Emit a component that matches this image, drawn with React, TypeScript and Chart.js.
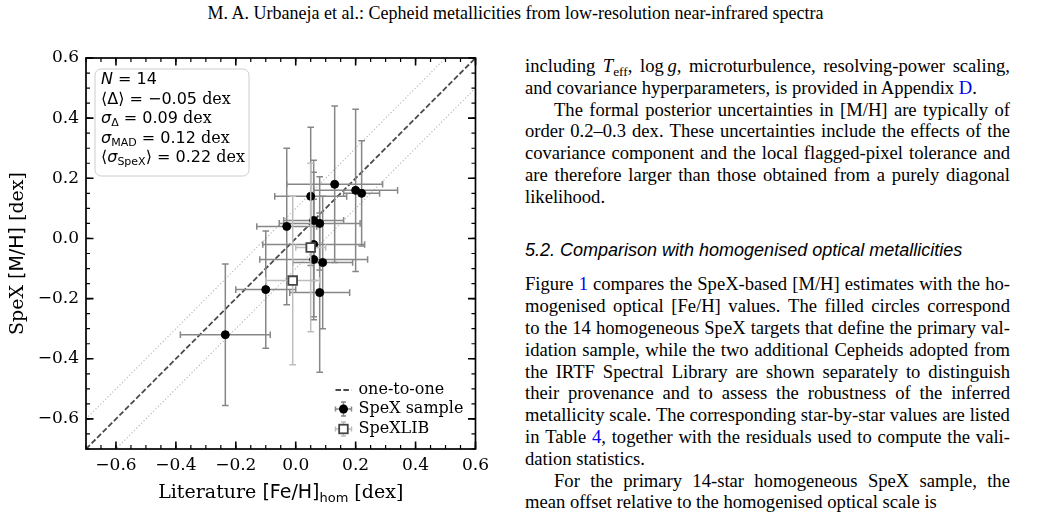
import React, { useEffect, useRef } from "react";
import { Chart, registerables } from "chart.js";

Chart.register(...registerables);

// ---------------- chart data ----------------
const axisMin = -0.7;
const axisMax = 0.6;
const tickValues = [-0.6, -0.4, -0.2, 0.0, 0.2, 0.4, 0.6];
const tickLabels = ["−0.6", "−0.4", "−0.2", "0.0", "0.2", "0.4", "0.6"];
const minorTickStep = 0.05;

// homogeneous SpeX sample: literature [Fe/H]_hom (x) vs SpeX [M/H] (y)
const sampleLit = [-0.235, -0.10, -0.03, 0.05, 0.06, 0.06, 0.06, 0.08, 0.08, 0.09, 0.13, 0.20, 0.22];
const sampleSpex = [-0.32, -0.17, 0.04, 0.14, 0.06, -0.02, -0.07, 0.05, -0.18, -0.08, 0.18, 0.16, 0.15];
const sampleLitErr = [0.15, 0.10, 0.10, 0.12, 0.10, 0.17, 0.18, 0.135, 0.10, 0.10, 0.16, 0.14, 0.06];
const sampleSpexErr = [0.235, 0.195, 0.26, 0.23, 0.20, 0.24, 0.20, 0.155, 0.265, 0.22, 0.26, 0.27, 0.175];

// SpeXLIB Cepheids
const libLit = [-0.01, 0.05];
const libSpex = [-0.14, -0.03];
const libLitErr = [0.09, 0.05];
const libSpexErr = [0.28, 0.28];

// one-to-one relation and +/- band
const oneToOneX = [-0.7, 0.6];
const bandOffset = 0.1;

const legendLabels = ["one-to-one", "SpeX sample", "SpeXLIB"];

// ---------------- styling ----------------
const SANS = '"DejaVu Sans"';
const SERIF = '"DejaVu Serif"';
const SAMPLE_ERR = "#878787";
const LIB_ERR = "#bdbdbd";
const SQUARE_EDGE = "#444444";
const DASH_COLOR = "#4a4a4a";
const DOT_COLOR = "#b4b4b4";

type Seg = { t: string; f: string; dy?: number };

function drawSegs(ctx: CanvasRenderingContext2D, segs: Seg[], x: number, y: number, align: "left" | "center") {
  let total = 0;
  const widths = segs.map((s) => {
    ctx.font = s.f;
    const w = ctx.measureText(s.t).width;
    total += w;
    return w;
  });
  let cx = align === "center" ? x - total / 2 : x;
  segs.forEach((s, i) => {
    ctx.font = s.f;
    ctx.fillText(s.t, cx, y + (s.dy || 0));
    cx += widths[i];
  });
}

const statsSegs: Seg[][] = [
  [
    { t: "N", f: `italic 16px ${SANS}` },
    { t: " = 14", f: `16px ${SANS}` },
  ],
  [
    { t: "⟨Δ⟩ = −0.05", f: `16px ${SANS}` },
    { t: " dex", f: `16px ${SERIF}` },
  ],
  [
    { t: "σ", f: `italic 16px ${SANS}` },
    { t: "Δ", f: `11px ${SANS}`, dy: 3 },
    { t: " = 0.09", f: `16px ${SANS}` },
    { t: " dex", f: `16px ${SERIF}` },
  ],
  [
    { t: "σ", f: `italic 16px ${SANS}` },
    { t: "MAD", f: `11px ${SANS}`, dy: 3 },
    { t: " = 0.12", f: `16px ${SANS}` },
    { t: " dex", f: `16px ${SERIF}` },
  ],
  [
    { t: "⟨", f: `16px ${SANS}` },
    { t: "σ", f: `italic 16px ${SANS}` },
    { t: "SpeX", f: `11px ${SANS}`, dy: 3 },
    { t: "⟩ = 0.22", f: `16px ${SANS}` },
    { t: " dex", f: `16px ${SERIF}` },
  ],
];

function drawErrorBar(
  ctx: CanvasRenderingContext2D,
  cx: number,
  cy: number,
  x0: number,
  x1: number,
  y0: number,
  y1: number,
  cap: number
) {
  ctx.beginPath();
  ctx.moveTo(x0, cy);
  ctx.lineTo(x1, cy);
  ctx.moveTo(cx, y0);
  ctx.lineTo(cx, y1);
  ctx.moveTo(x0, cy - cap);
  ctx.lineTo(x0, cy + cap);
  ctx.moveTo(x1, cy - cap);
  ctx.lineTo(x1, cy + cap);
  ctx.moveTo(cx - cap, y0);
  ctx.lineTo(cx + cap, y0);
  ctx.moveTo(cx - cap, y1);
  ctx.lineTo(cx + cap, y1);
  ctx.stroke();
}

const errorBarPlugin = {
  id: "errorBars",
  beforeDatasetDraw(chart: any, args: any) {
    const ds = chart.data.datasets[args.index];
    if (!ds.errX) return;
    const ctx: CanvasRenderingContext2D = chart.ctx;
    const xs = chart.scales.x;
    const ys = chart.scales.y;
    ctx.save();
    ctx.strokeStyle = ds.errColor;
    ctx.lineWidth = 1.5;
    ds.data.forEach((p: any, i: number) => {
      const cx = xs.getPixelForValue(p.x);
      const cy = ys.getPixelForValue(p.y);
      drawErrorBar(
        ctx,
        cx,
        cy,
        xs.getPixelForValue(p.x - ds.errX[i]),
        xs.getPixelForValue(p.x + ds.errX[i]),
        ys.getPixelForValue(p.y + ds.errY[i]),
        ys.getPixelForValue(p.y - ds.errY[i]),
        3.3
      );
    });
    ctx.restore();
  },
};

const framePlugin = {
  id: "frameTicks",
  afterDatasetsDraw(chart: any) {
    const ctx: CanvasRenderingContext2D = chart.ctx;
    const a = chart.chartArea;
    const xs = chart.scales.x;
    const ys = chart.scales.y;
    ctx.save();
    ctx.strokeStyle = "#000";
    const n = Math.round((axisMax - axisMin) / minorTickStep);
    ctx.lineWidth = 1.2;
    ctx.beginPath();
    for (let k = 0; k <= n; k++) {
      const v = axisMin + k * minorTickStep;
      const px = xs.getPixelForValue(v);
      const py = ys.getPixelForValue(v);
      ctx.moveTo(px, a.bottom);
      ctx.lineTo(px, a.bottom - 4);
      ctx.moveTo(px, a.top);
      ctx.lineTo(px, a.top + 4);
      ctx.moveTo(a.left, py);
      ctx.lineTo(a.left + 4, py);
      ctx.moveTo(a.right, py);
      ctx.lineTo(a.right - 4, py);
    }
    ctx.stroke();
    ctx.lineWidth = 1.6;
    ctx.beginPath();
    tickValues.forEach((v) => {
      const px = xs.getPixelForValue(v);
      const py = ys.getPixelForValue(v);
      ctx.moveTo(px, a.bottom);
      ctx.lineTo(px, a.bottom - 7.5);
      ctx.moveTo(px, a.top);
      ctx.lineTo(px, a.top + 7.5);
      ctx.moveTo(a.left, py);
      ctx.lineTo(a.left + 7.5, py);
      ctx.moveTo(a.right, py);
      ctx.lineTo(a.right - 7.5, py);
    });
    ctx.stroke();
    ctx.lineWidth = 1.7;
    ctx.strokeRect(a.left, a.top, a.right - a.left, a.bottom - a.top);
    ctx.restore();
  },
  afterDraw(chart: any) {
    const ctx: CanvasRenderingContext2D = chart.ctx;
    const a = chart.chartArea;
    ctx.save();
    ctx.fillStyle = "#000";
    ctx.textBaseline = "alphabetic";

    // axis titles
    drawSegs(
      ctx,
      [
        { t: "Literature ", f: `19px ${SERIF}` },
        { t: "[Fe/H]", f: `19px ${SANS}` },
        { t: "hom", f: `13px ${SANS}`, dy: 4 },
        { t: " [dex]", f: `19px ${SERIF}` },
      ],
      (a.left + a.right) / 2,
      a.bottom + 49,
      "center"
    );
    ctx.save();
    ctx.translate(a.left - 63, (a.top + a.bottom) / 2);
    ctx.rotate(-Math.PI / 2);
    drawSegs(
      ctx,
      [
        { t: "SpeX ", f: `19px ${SERIF}` },
        { t: "[M/H]", f: `19px ${SANS}` },
        { t: " [dex]", f: `19px ${SERIF}` },
      ],
      0,
      0,
      "center"
    );
    ctx.restore();

    // statistics box
    const bx = a.left + 9;
    const by = a.top + 11;
    const bw = 154;
    const bh = 107;
    ctx.beginPath();
    ctx.roundRect(bx, by, bw, bh, 6);
    ctx.fillStyle = "rgba(255,255,255,0.8)";
    ctx.fill();
    ctx.strokeStyle = "#cccccc";
    ctx.lineWidth = 1;
    ctx.stroke();
    ctx.fillStyle = "#000";
    statsSegs.forEach((segs, i) => {
      drawSegs(ctx, segs, bx + 6, by + 15 + i * 19.5, "left");
    });

    // legend
    const hx = a.right - 132;
    const tx = a.right - 117;
    const rows = [a.bottom - 59, a.bottom - 40, a.bottom - 20];
    ctx.strokeStyle = DASH_COLOR;
    ctx.lineWidth = 1.8;
    ctx.setLineDash([5.5, 2.4]);
    ctx.beginPath();
    ctx.moveTo(hx - 8, rows[0]);
    ctx.lineTo(hx + 8, rows[0]);
    ctx.stroke();
    ctx.setLineDash([]);

    ctx.lineWidth = 1.5;
    ctx.strokeStyle = SAMPLE_ERR;
    drawErrorBar(ctx, hx, rows[1], hx - 8, hx + 8, rows[1] - 7, rows[1] + 7, 2.5);
    ctx.fillStyle = "#000";
    ctx.beginPath();
    ctx.arc(hx, rows[1], 4.5, 0, Math.PI * 2);
    ctx.fill();

    ctx.strokeStyle = LIB_ERR;
    drawErrorBar(ctx, hx, rows[2], hx - 8, hx + 8, rows[2] - 7, rows[2] + 7, 2.5);
    ctx.fillStyle = "#fff";
    ctx.fillRect(hx - 4.3, rows[2] - 4.3, 8.6, 8.6);
    ctx.strokeStyle = SQUARE_EDGE;
    ctx.lineWidth = 1.8;
    ctx.strokeRect(hx - 4.3, rows[2] - 4.3, 8.6, 8.6);

    ctx.fillStyle = "#000";
    ctx.font = `16px ${SERIF}`;
    ctx.textBaseline = "middle";
    legendLabels.forEach((l, i) => ctx.fillText(l, tx, rows[i]));
    ctx.restore();
  },
};

function ChartCanvas() {
  const ref = useRef<HTMLCanvasElement | null>(null);
  useEffect(() => {
    if (!ref.current) return;
    const sampleData = sampleLit.map((x, i) => ({ x, y: sampleSpex[i] }));
    const libData = libLit.map((x, i) => ({ x, y: libSpex[i] }));
    const oneToOne = oneToOneX.map((x) => ({ x, y: x }));
    const upper = oneToOneX.map((x) => ({ x, y: x + bandOffset }));
    const lower = oneToOneX.map((x) => ({ x, y: x - bandOffset }));

    const tickCfg = (padding: number) => ({
      font: { family: "DejaVu Serif", size: 17 },
      color: "#000",
      padding,
      maxRotation: 0,
      autoSkip: false,
      callback: (_v: any, i: number) => tickLabels[i],
    });

    const chart = new Chart(ref.current, {
      type: "scatter",
      data: {
        datasets: [
          {
            data: upper,
            showLine: true,
            pointRadius: 0,
            borderColor: DOT_COLOR,
            borderWidth: 1.1,
            borderDash: [1.2, 2.2],
            order: 6,
          },
          {
            data: lower,
            showLine: true,
            pointRadius: 0,
            borderColor: DOT_COLOR,
            borderWidth: 1.1,
            borderDash: [1.2, 2.2],
            order: 5,
          },
          {
            data: oneToOne,
            showLine: true,
            pointRadius: 0,
            borderColor: DASH_COLOR,
            borderWidth: 1.8,
            borderDash: [5.5, 2.4],
            order: 4,
          },
          {
            data: sampleData,
            pointRadius: 4,
            pointBorderWidth: 1,
            pointBackgroundColor: "#000",
            pointBorderColor: "#000",
            errX: sampleLitErr,
            errY: sampleSpexErr,
            errColor: SAMPLE_ERR,
            order: 2,
          } as any,
          {
            data: libData,
            pointStyle: "rect",
            pointRadius: 6.1,
            pointBorderWidth: 1.8,
            pointBackgroundColor: "#fff",
            pointBorderColor: SQUARE_EDGE,
            errX: libLitErr,
            errY: libSpexErr,
            errColor: LIB_ERR,
            order: 1,
          } as any,
        ],
      },
      options: {
        animation: false,
        responsive: false,
        events: [],
        layout: { padding: { left: 0, top: 58, right: 18, bottom: 31 } },
        plugins: { legend: { display: false }, tooltip: { enabled: false }, title: { display: false } },
        scales: {
          x: {
            type: "linear",
            min: axisMin,
            max: axisMax,
            bounds: "data",
            grid: { display: false, drawTicks: false },
            border: { display: false },
            afterBuildTicks: (s: any) => {
              s.ticks = tickValues.map((value) => ({ value }));
            },
            afterFit: (s: any) => {
              s.height = 30;
            },
            ticks: tickCfg(6) as any,
          },
          y: {
            type: "linear",
            min: axisMin,
            max: axisMax,
            bounds: "data",
            grid: { display: false, drawTicks: false },
            border: { display: false },
            afterBuildTicks: (s: any) => {
              s.ticks = tickValues.map((value) => ({ value }));
            },
            afterFit: (s: any) => {
              s.width = 86;
            },
            ticks: tickCfg(7) as any,
          },
        },
      } as any,
      plugins: [errorBarPlugin, framePlugin],
    });
    return () => chart.destroy();
  }, []);
  return <canvas ref={ref} width={495} height={510} style={{ position: "absolute", left: 0, top: 0, width: 495, height: 510 }} />;
}

// ---------------- page text ----------------
const BLUE = "#0000ee";
const LINE_H = 21.8;
const TEXT_LEFT = 525;
const TEXT_W = 485;
const INDENT = 29;

type TL = { t: string; j: boolean; ind?: boolean };

const block1: TL[] = [
  { t: "including {i:T}{s:eff}, log\u2009{i:g}, microturbulence, resolving-power scaling,", j: true },
  { t: "and covariance hyperparameters, is provided in Appendix {b:D}.", j: false },
  { t: "The formal posterior uncertainties in [M/H] are typically of", j: true, ind: true },
  { t: "order 0.2–0.3 dex. These uncertainties include the effects of the", j: true },
  { t: "covariance component and the local flagged-pixel tolerance and", j: true },
  { t: "are therefore larger than those obtained from a purely diagonal", j: true },
  { t: "likelihood.", j: false },
];

const block2: TL[] = [
  { t: "Figure {b:1} compares the SpeX-based [M/H] estimates with the ho-", j: true },
  { t: "mogenised optical [Fe/H] values. The filled circles correspond", j: true },
  { t: "to the 14 homogeneous SpeX targets that define the primary val-", j: true },
  { t: "idation sample, while the two additional Cepheids adopted from", j: true },
  { t: "the IRTF Spectral Library are shown separately to distinguish", j: true },
  { t: "their provenance and to assess the robustness of the inferred", j: true },
  { t: "metallicity scale. The corresponding star-by-star values are listed", j: true },
  { t: "in Table {b:4}, together with the residuals used to compute the vali-", j: true },
  { t: "dation statistics.", j: false },
  { t: "For the primary 14-star homogeneous SpeX sample, the", j: true, ind: true },
  { t: "mean offset relative to the homogenised optical scale is", j: false },
];

function renderToken(tok: string, key: number) {
  const parts: React.ReactNode[] = [];
  const re = /\{([isb]):([^}]*)\}/g;
  let last = 0;
  let m: RegExpExecArray | null;
  let k = 0;
  while ((m = re.exec(tok))) {
    if (m.index > last) parts.push(tok.slice(last, m.index));
    const kind = m[1];
    const txt = m[2];
    if (kind === "i") parts.push(<i key={k++}>{txt}</i>);
    else if (kind === "s")
      parts.push(
        <span key={k++} style={{ fontSize: "0.72em", position: "relative", top: "0.28em" }}>
          {txt}
        </span>
      );
    else
      parts.push(
        <span key={k++} style={{ color: BLUE }}>
          {txt}
        </span>
      );
    last = re.lastIndex;
  }
  if (last < tok.length) parts.push(tok.slice(last));
  return <span key={key}>{parts}</span>;
}

function TextLine({ line, top }: { line: TL; top: number }) {
  const left = TEXT_LEFT + (line.ind ? INDENT : 0);
  const width = TEXT_W - (line.ind ? INDENT : 0);
  const tokens = line.t.split(" ");
  const base: React.CSSProperties = {
    position: "absolute",
    left,
    top,
    width,
    height: LINE_H,
    lineHeight: `${LINE_H}px`,
    whiteSpace: "nowrap",
  };
  if (line.j) {
    return (
      <div style={{ ...base, display: "flex", justifyContent: "space-between", alignItems: "baseline" }}>
        {tokens.map((t, i) => renderToken(t, i))}
      </div>
    );
  }
  return (
    <div style={base}>
      {tokens.map((t, i) => (
        <React.Fragment key={i}>
          {i > 0 ? " " : ""}
          {renderToken(t, i)}
        </React.Fragment>
      ))}
    </div>
  );
}

export default function App() {
  const bodyFont = '"Liberation Serif", "Times New Roman", serif';
  return (
    <div
      style={{
        position: "absolute",
        left: 0,
        top: 0,
        width: 1045,
        height: 521,
        background: "#fff",
        overflow: "hidden",
        color: "#000",
      }}
    >
      <div
        style={{
          position: "absolute",
          left: 0,
          top: 3,
          width: 1031,
          textAlign: "center",
          fontFamily: bodyFont,
          fontSize: 18,
          lineHeight: "21.8px",
          whiteSpace: "nowrap",
        }}
      >
        M. A. Urbaneja et al.: Cepheid metallicities from low-resolution near-infrared spectra
      </div>
      <ChartCanvas />
      <div style={{ position: "absolute", left: 0, top: 0, fontFamily: bodyFont, fontSize: 18.6 }}>
        {block1.map((l, i) => (
          <TextLine key={"a" + i} line={l} top={55 + i * LINE_H} />
        ))}
        <div
          style={{
            position: "absolute",
            left: TEXT_LEFT,
            top: 239.5,
            whiteSpace: "nowrap",
            fontFamily: '"Liberation Sans", Arial, sans-serif',
            fontStyle: "italic",
            fontSize: 18,
            lineHeight: "21.8px",
          }}
        >
          5.2. Comparison with homogenised optical metallicities
        </div>
        {block2.map((l, i) => (
          <TextLine key={"b" + i} line={l} top={273.3 + i * LINE_H} />
        ))}
      </div>
    </div>
  );
}
